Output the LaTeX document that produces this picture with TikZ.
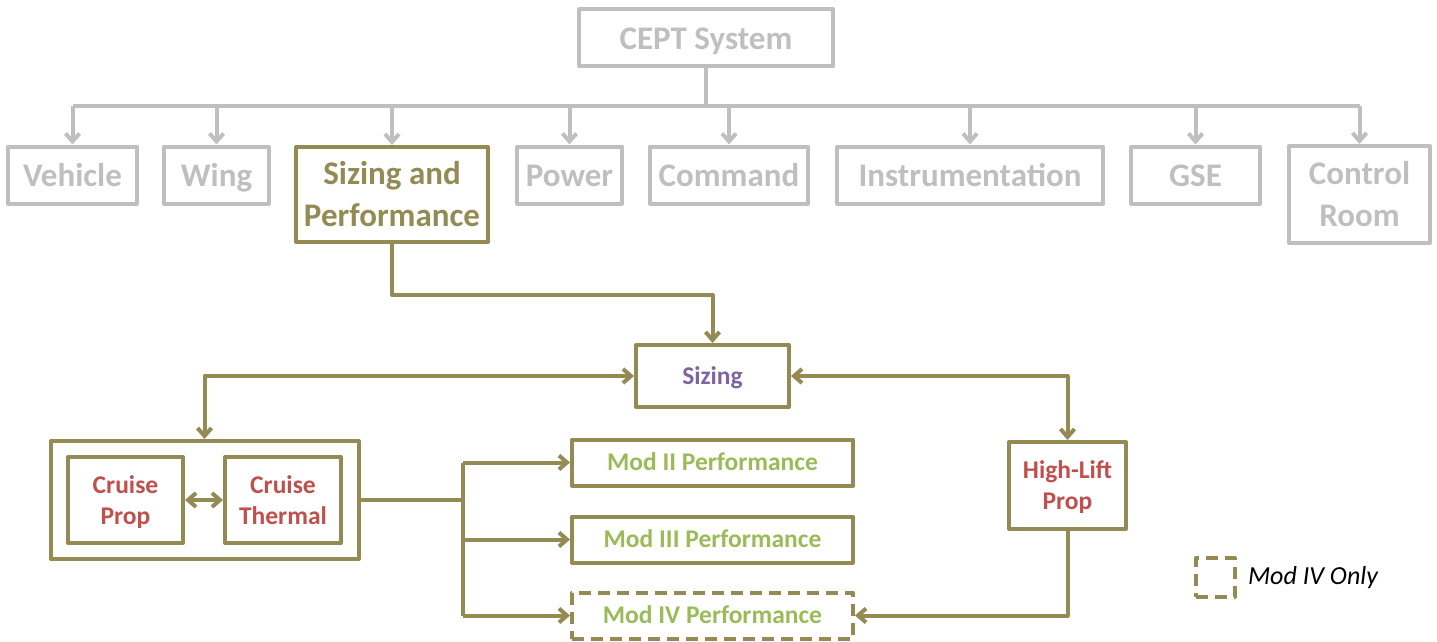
\documentclass[tikz,border=0pt]{standalone}
\usepackage{fontspec}
\setmainfont{Carlito}
\usetikzlibrary{arrows.meta,positioning,fit}
\definecolor{greyLine}{RGB}{191,191,191}
\definecolor{oliveLine}{RGB}{148,138,84}
\definecolor{sizingText}{RGB}{128,100,162}
\definecolor{propText}{RGB}{192,80,77}
\definecolor{perfText}{RGB}{155,187,89}
\newcommand{\nodestrut}{\rule[-0.235\baselineskip]{0pt}{\baselineskip}}
\tikzset{
    strutText/.style={
    ,   execute at begin node=\nodestrut
    ,   execute at end node=\nodestrut
    },
    topFont/.style={
    ,   inner sep=0pt
    ,   align=center
    ,   font={\fontsize{33}{42}\selectfont\bfseries}
    ,   strutText
    },
    lowFont/.style={
    ,   inner sep=0pt
    ,   align=center
    ,   font={\fontsize{25.5}{31}\selectfont\bfseries}
    ,   strutText
    },
    topBox/.style={
    ,   topFont
    ,   draw=greyLine
    ,   text=greyLine
    ,   minimum height=57pt
    },
    topLabel/.style={
    ,   topFont
    ,   text=greyLine
    ,   yshift=-4pt
    },
    lowBox/.style={
    ,   lowFont
    ,   draw=oliveLine
    },
    sizBox/.style={
    ,   lowBox
    ,   text=sizingText
    ,   minimum width=153pt
    ,   minimum height=62pt
    },
    propBox/.style={
    ,   lowBox
    ,   minimum height=86pt
    },
    propLabel/.style={
    ,   lowFont
    ,   text=propText
    ,   yshift=-3.5pt
    },
    perfBox/.style={
    ,   lowBox
    ,   text=perfText
    ,   minimum width=281pt
    ,   minimum height=46pt
    },
    groupBox/.style={
    ,   draw=oliveLine
    ,   inner xsep=15.5pt
    ,   inner ysep=14pt
    },
    modFour/.style={
    ,   dash pattern=on 12pt off 7pt
    }
}

\begin{document}
\begin{tikzpicture}[x=1pt, y=-1pt
        ,line width=4pt
        ,line join=round
        ,>={Straight Barb[length=8pt, width=14pt]}]
\useasboundingbox (0,0) rectangle (1437,642);

% system tree
\node[topBox, minimum width=254pt] (cept) at (706,38) {CEPT System};
\foreach \name/\x/\w/\txt in {vehicle/72.5/129/Vehicle, wing/216.5/105/Wing,
        power/569.5/105/Power, command/729/158/Command,
        instr/970/266/Instrumentation, gse/1195.5/129/GSE}{
    \node[topBox, minimum width=\w pt] (\name) at (\x,175) {\txt};
}
\node[topBox, minimum width=192pt, minimum height=95pt, draw=oliveLine,
    label={[topLabel, text=oliveLine]center:{Sizing and\\Performance}}] (sizperf) at (392,194.5) {};
\node[topBox, minimum width=141pt, minimum height=97pt,
    label={[topLabel]center:{Control\\Room}}] (control) at (1359.5,194.5) {};

\coordinate (bus) at (706,106);
\draw[greyLine] (cept) -- (bus);
\draw[greyLine] (vehicle.north |- bus) -- (control.north |- bus);
\foreach \name in {vehicle,wing,sizperf,power,command,instr,gse,control}
    \draw[greyLine,->] (\name.north |- bus) -- (\name.north);

% sizing and performance
\node[sizBox] (sizing) at (712.5,376) {Sizing};
\node[propBox, minimum width=115pt, label={[propLabel]center:{Cruise\\Prop}}] (cprop) at (125.5,500) {};
\node[propBox, minimum width=116pt, label={[propLabel]center:{Cruise\\Thermal}}] (ctherm) at (283,500) {};
\node[groupBox, fit=(cprop)(ctherm)] (cruise) {};
\node[propBox, minimum width=117pt, minimum height=87pt,
    label={[propLabel]center:{High-Lift\\Prop}}] (hlprop) at (1067.5,485.5) {};
\node[perfBox] (mod2) at (712.5,462.5) {Mod II Performance};
\node[perfBox] (mod3) at (712.5,539.5) {Mod III Performance};
\node[perfBox, modFour] (mod4) at (712.5,615.5) {Mod IV Performance};

\coordinate (split) at (463,500);
\draw[oliveLine,->] (sizperf.south) -- ++(0,51) -| (sizing.north);
\draw[oliveLine,<->] (cruise.north) |- (sizing.west);
\draw[oliveLine,<->] (sizing.east) -| (hlprop.north);
\draw[oliveLine,<->] (cprop) -- (ctherm);
\draw[oliveLine] (cruise.east) -- (split);
\draw[oliveLine] (split |- mod2.west) -- (split |- mod4.west);
\foreach \m in {mod2,mod3,mod4}
    \draw[oliveLine,->] (split |- \m.west) -- (\m.west);
\draw[oliveLine,->] (hlprop.south) |- (mod4.east);

% legend
\node[draw=oliveLine, modFour, minimum size=39pt, inner sep=0pt] (legbox) at (1215.5,577.5) {};
\node[right=9pt of legbox, inner sep=0pt, font={\fontsize{26}{31}\selectfont\itshape}] (legtext) {Mod IV Only};
\end{tikzpicture}
\end{document}
